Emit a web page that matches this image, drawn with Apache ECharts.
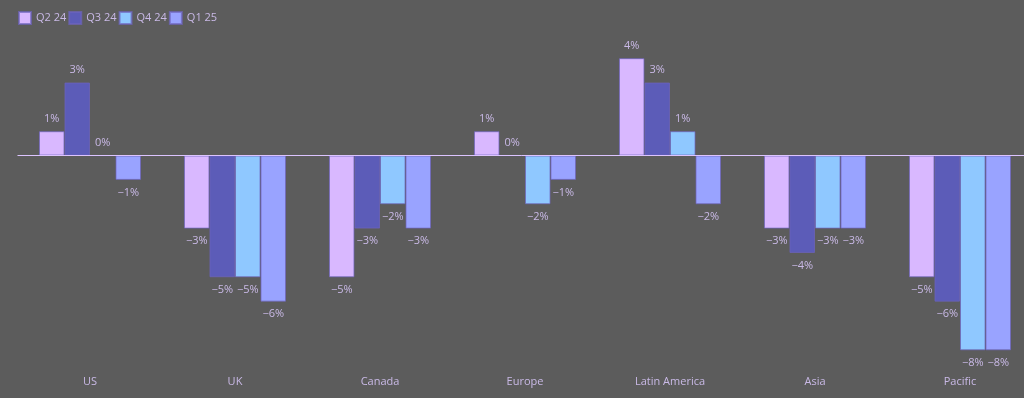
<!DOCTYPE html>
<html>
<head>
<meta charset="utf-8">
<script src="https://cdn.jsdelivr.net/npm/echarts@6/dist/echarts.min.js"></script>
<style>
  html, body { margin: 0; padding: 0; background: #5c5c5c; }
  #chart { width: 1024px; height: 398px; }
</style>
</head>
<body>
<div id="chart"></div>
<script>
var regions = ['US', 'UK', 'Canada', 'Europe', 'Latin America', 'Asia', 'Pacific'];
var quarters = ['Q2 24', 'Q3 24', 'Q4 24', 'Q1 25'];
var q2_24 = [1, -3, -5, 1, 4, -3, -5];
var q3_24 = [3, -5, -3, 0, 3, -4, -6];
var q4_24 = [0, -5, -2, -2, 1, -3, -8];
var q1_25 = [-1, -6, -3, -1, -2, -3, -8];
var colors = ['#d9b8ff', '#5c5cb8', '#8fc8ff', '#99a3ff'];

var textColor = '#c9b9e6';
var font = '"Open Sans", "Noto Sans", sans-serif';

// labels above positive bars, below negative ones
function makeData(values) {
	return values.map(function (v) {
		return {
			value: v,
			label: { position: v < 0 ? 'bottom' : 'top' }
		};
	});
}

var allValues = [q2_24, q3_24, q4_24, q1_25];
var series = [];
for (var i = 0; i < quarters.length; i++) {
	var s = {
		name: quarters[i],
		type: 'bar',
		barGap: 0,
		barCategoryGap: '29.6%',
		data: makeData(allValues[i]),
		itemStyle: {
			color: colors[i],
			borderColor: 'rgba(110,100,190,0.7)',
			borderWidth: 1
		},
		label: {
			show: true,
			color: textColor,
			fontFamily: font,
			fontSize: 11,
			distance: 7,
			formatter: function (p) {
				return (p.value < 0 ? '\u2212' + Math.abs(p.value) : p.value) + '%';
			}
		}
	};
	if (i == 0) {
		s.markLine = {
			silent: true,
			symbol: ['none', 'none'],
			label: { show: false },
			lineStyle: { color: '#dcc4ff', width: 1, type: 'solid' },
			data: [{ yAxis: 0 }]
		};
	}
	series.push(s);
}

var chart = echarts.init(document.getElementById('chart'));
chart.setOption({
	backgroundColor: '#5c5c5c',
	animation: false,
	color: colors,
	legend: {
		left: 13,
		top: 6,
		itemWidth: 12,
		itemHeight: 12,
		itemGap: 2,
		icon: 'rect',
		textStyle: { color: textColor, fontFamily: font, fontSize: 11 },
		data: quarters
	},
	grid: {
		left: 17.5,
		width: 1015,
		top: 46,
		height: 316.5,
		containLabel: false,
		outerBoundsMode: 'none'
	},
	xAxis: {
		type: 'category',
		data: regions,
		position: 'bottom',
		axisLine: { show: false, onZero: false },
		axisTick: { show: false },
		axisLabel: { color: textColor, fontFamily: font, fontSize: 11, margin: 14 }
	},
	yAxis: {
		type: 'value',
		min: -8.5,
		max: 4.5,
		show: false,
		splitLine: { show: false }
	},
	series: series
});
</script>
</body>
</html>
